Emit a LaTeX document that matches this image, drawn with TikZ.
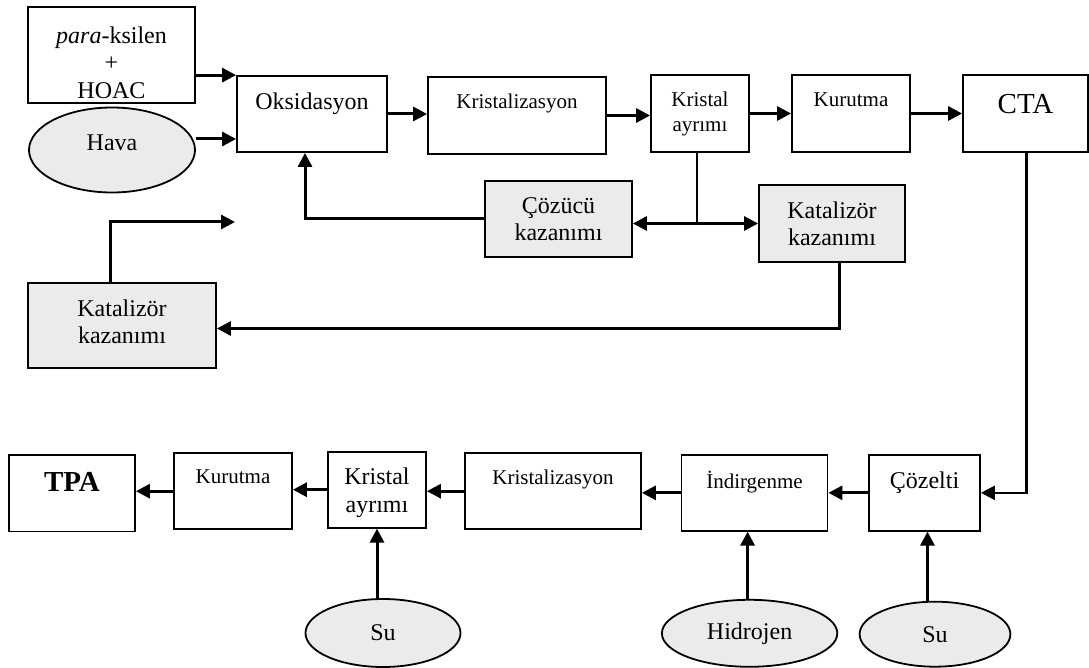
\documentclass[tikz,border=0pt]{standalone}
\usepackage{fontspec}
\setmainfont{Liberation Serif}
\usetikzlibrary{shapes.geometric,arrows.meta,positioning,calc}
\definecolor{SpeckGray}{HTML}{EBEBEB}

\begin{document}
\begin{tikzpicture}[
    x=0.5pt, y=-0.5pt,
    font=\fontsize{12}{13.8}\selectfont,
    box/.style={draw, line width=0.9pt, inner sep=0pt},
    grbox/.style={box, fill=SpeckGray},
    feed/.style={ellipse, draw, line width=0.9pt, fill=SpeckGray, inner sep=0pt},
    lbl/.style={anchor=north, inner sep=0pt, align=center, yshift=-8.5pt},
    sm/.style={font=\fontsize{10.5}{12.5}\selectfont},
    big/.style={font=\fontsize{14.5}{16}\selectfont},
    bigbf/.style={font=\fontsize{14.5}{16}\selectfont\bfseries},
    arr/.style={-{Triangle[length=7pt,width=7pt]}, line width=1.5pt},
    ln/.style={line width=1pt}
  ]
  \useasboundingbox (0,0) rectangle (1089,668);

  % Top line: oxidation to CTA
  \node[box, minimum width=83.5pt, minimum height=48pt, label={[lbl, yshift=-1.5pt]north:{\textit{para}-ksilen\\+\\HOAC}}] (pxl) at (111.5,55) {};
  \node[feed, minimum width=83pt, minimum height=42.5pt, text depth=7pt] (hava) at (112,150) {Hava};
  \node[box, minimum width=75pt, minimum height=38pt, label={[lbl]north:Oksidasyon}] (oks) at (312,114) {};
  \node[box, minimum width=89pt, minimum height=38.5pt, label={[lbl, sm]north:Kristalizasyon}] (kris1) at (517,115.5) {};
  \node[box, minimum width=49pt, minimum height=38.5pt, label={[lbl, sm]north:{Kristal\\ayrımı}}] (ayr1) at (700,113.5) {};
  \node[box, minimum width=59pt, minimum height=38.5pt, label={[lbl, sm, yshift=-0.5pt]north:Kurutma}] (kur1) at (851,113.5) {};
  \node[box, minimum width=62.5pt, minimum height=38.5pt, label={[lbl, big, yshift=-1.3pt]north:CTA}] (cta) at (1025.5,113.5) {};

  % Recovery units
  \node[grbox, minimum width=73.5pt, minimum height=38pt, label={[lbl]north:{Çözücü\\kazanımı}}] (cozucu) at (558.5,219) {};
  \node[grbox, minimum width=73pt, minimum height=38.5pt, label={[lbl]north:{Katalizör\\kazanımı}}] (katr) at (832,223.5) {};
  \node[grbox, minimum width=94pt, minimum height=42.5pt, label={[lbl]north:{Katalizör\\kazanımı}}] (katl) at (122,325.5) {};
  \coordinate (katin) at (235,222);

  % Bottom line: purification to TPA
  \node[box, minimum width=63pt, minimum height=38.25pt, label={[lbl, bigbf, yshift=-0.3pt]north:TPA}] (tpa) at (72,493.25) {};
  \node[box, minimum width=59pt, minimum height=38pt, label={[lbl, sm]north:Kurutma}] (kur2) at (233,491.2) {};
  \node[box, minimum width=49pt, minimum height=38pt, label={[lbl]north:{Kristal\\ayrımı}}] (ayr2) at (377,489.7) {};
  \node[box, minimum width=88pt, minimum height=38pt, label={[lbl, sm]north:Kristalizasyon}] (kris2) at (553,491.2) {};
  \node[box, minimum width=73pt, minimum height=37.85pt, label={[lbl, sm]north:İndirgenme}] (ind) at (754.5,492.85) {};
  \node[box, minimum width=55.5pt, minimum height=37.85pt, label={[lbl]north:Çözelti}] (cozelti) at (924.5,492.85) {};
  \node[feed, minimum width=77.5pt, minimum height=34pt] (su1) at (383,633) {Su};
  \node[feed, minimum width=87.7pt, minimum height=33.5pt] (hid) at (749.6,633.3) {Hidrojen};
  \node[feed, minimum width=75.4pt, minimum height=32.5pt] (su2) at (935,634.2) {Su};

  % Connectors, top
  \draw[arr] (oks.north west -| pxl.east) -- (oks.north west);
  \draw[arr] ([yshift=5.5pt]hava.east) -- ([yshift=5.5pt]hava.east -| oks.west);
  \draw[arr] (oks.east) -- (oks.east -| kris1.west);
  \draw[arr] (kris1.east) -- (kris1.east -| ayr1.west);
  \draw[arr] (ayr1.east) -- (ayr1.east -| kur1.west);
  \draw[arr] (kur1.east) -- (kur1.east -| cta.west);

  % Recycle streams
  \coordinate (jn) at ([xshift=-1.5pt]ayr1.south |- katr.west);
  \draw[ln] ([xshift=-1.5pt]ayr1.south) -- (jn);
  \draw[arr] (jn) -- (jn -| cozucu.east);
  \draw[arr] (jn) -- (katr.west);
  \draw[arr] (cozucu.west) -| ([xshift=-3.5pt]oks.south);
  \draw[arr] ([xshift=3.5pt]katr.south) |- ([yshift=-1.5pt]katl.east);
  \draw[arr] ([xshift=-6pt]katl.north) |- (katin);

  % CTA to purification
  \draw[arr, line width=1.2pt] ([xshift=0.5pt]cta.south) |- (cozelti.east);

  % Connectors, bottom
  \draw[arr] (cozelti.west) -- (ind.east);
  \draw[arr] (ind.west) -- (ind.west -| kris2.east);
  \draw[arr] (kris2.west) -- (kris2.west -| ayr2.east);
  \draw[arr] (ayr2.west) -- (ayr2.west -| kur2.east);
  \draw[arr] (kur2.west) -- (kur2.west -| tpa.east);
  \draw[arr] (su1.north -| ayr2.south) -- (ayr2.south);
  \draw[arr] ([xshift=-1pt]hid.north) -- ([xshift=-1pt]hid.north |- ind.south);
  \draw[arr] ([xshift=1.5pt]su2.north -| cozelti.south) -- ([xshift=1.5pt]cozelti.south);
\end{tikzpicture}
\end{document}
